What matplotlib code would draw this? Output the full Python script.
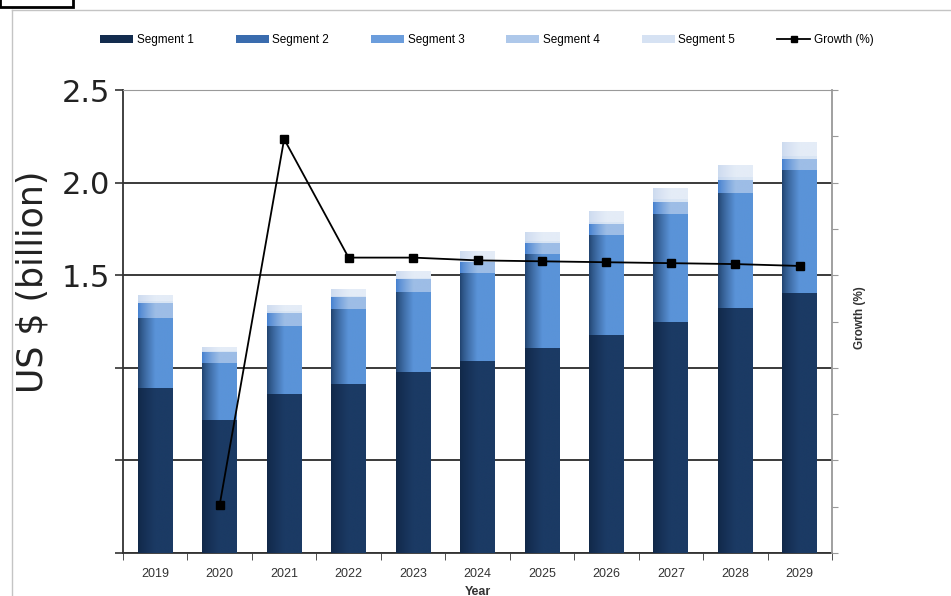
import numpy as np
import matplotlib
matplotlib.use('Agg')
import matplotlib.pyplot as plt
from matplotlib.colors import to_rgb
from matplotlib.lines import Line2D
from matplotlib.patches import Rectangle, Patch

years = ['2019', '2020', '2021', '2022', '2023', '2024', '2025', '2026', '2027', '2028', '2029']
seg1 = [0.891, 0.718, 0.859, 0.911, 0.976, 1.038, 1.105, 1.177, 1.249, 1.321, 1.402]
seg2 = [0.378, 0.308, 0.369, 0.405, 0.435, 0.472, 0.509, 0.540, 0.582, 0.624, 0.666]
seg3 = [0.081, 0.059, 0.069, 0.065, 0.067, 0.063, 0.061, 0.059, 0.065, 0.069, 0.058]
seg4 = [0.008, 0.006, 0.008, 0.009, 0.009, 0.010, 0.011, 0.013, 0.013, 0.014, 0.015]
seg5 = [0.030, 0.021, 0.031, 0.036, 0.037, 0.044, 0.045, 0.057, 0.057, 0.063, 0.071]
growth_years = years[1:]
growth = [-19.8, 19.7, 6.9, 6.9, 6.6, 6.5, 6.4, 6.3, 6.2, 6.0]

segments = [seg1, seg2, seg3, seg4, seg5]
names = ['Segment 1', 'Segment 2', 'Segment 3', 'Segment 4', 'Segment 5']
# left edge colour -> right edge colour of each bar piece
grads = [('#112848', '#1b3a64'),
         ('#21436f', '#5a93d8'),
         ('#4580cf', '#9dbde6'),
         ('#c2d4ee', '#d9e5f4'),
         ('#ccdaef', '#e4ecf7')]
legend_colors = ['#132c4e', '#3a6cae', '#6b9ddc', '#aec8ea', '#d6e2f3']

small = ['Liberation Sans', 'DejaVu Sans']

fig = plt.figure(figsize=(9.51, 5.96), dpi=100)
fig.patch.set_facecolor('white')

# thin grey frame and the little box in the corner
fig.add_artist(Line2D([12/951, 1], [1-10/596, 1-10/596], color='#c4c4c4', lw=1))
fig.add_artist(Line2D([12/951, 12/951], [0, 1-10/596], color='#c4c4c4', lw=1))
fig.add_artist(Rectangle((0.0, 1-7/596), 73/951, 10/596, facecolor='white',
                         edgecolor='black', lw=2, clip_on=False))

ax = fig.add_axes([123/951, 43/596, 709/951, 463/596])
ax2 = ax.twinx()
ax.set_zorder(ax2.get_zorder() - 1)
ax2.patch.set_visible(False)

x = np.arange(len(years))
width = 0.54
bottom = np.zeros(len(years))
for vals, (c0, c1) in zip(segments, grads):
    bars = ax.bar(x, vals, width, bottom=bottom, color='none', edgecolor='none', zorder=3)
    r0, r1 = np.array(to_rgb(c0)), np.array(to_rgb(c1))
    t = np.clip(np.linspace(0, 1, 64) / 0.5, 0, 1) ** 0.8
    img = (r0[None, :] + (r1 - r0)[None, :] * t[:, None])[None, :, :]
    for p in bars:
        ax.imshow(img, extent=(p.get_x(), p.get_x() + p.get_width(),
                               p.get_y(), p.get_y() + p.get_height()),
                  aspect='auto', interpolation='bilinear', zorder=3)
    bottom += np.array(vals)

ax.set_xlim(-0.5, len(years) - 0.5)
ax.set_ylim(0, 2.5)
ax.set_yticks([0, 0.5, 1.0, 1.5, 2.0, 2.5])
ax.set_yticklabels(['', '', '', '1.5', '2.0', '2.5'], fontsize=22, color='#222222')
ax.grid(axis='y', color='#3a3a3a', lw=1.4, zorder=1)
ax.set_axisbelow(True)
ax.set_xticks(x)
ax.set_xticklabels(years, fontsize=9, color='#333333', family=small)
ax.set_xticks(np.arange(-0.5, len(years)), minor=True)
ax.tick_params(axis='x', which='major', length=0, pad=11)
ax.tick_params(axis='x', which='minor', length=5, color='#333333', direction='out')
ax.tick_params(axis='y', length=6, color='#333333', width=1.2, pad=3)
ax.set_xlabel('Year', fontsize=9, fontweight='bold', color='#333333', family=small, labelpad=4)
ax.set_ylabel('US $ (billion)', fontsize=25, color='#222222')
ax.yaxis.set_label_coords(-0.1035, 0.585)
for s in ['left', 'bottom']:
    ax.spines[s].set_color('#333333')
    ax.spines[s].set_linewidth(1.3)
ax.spines['top'].set_color('#9a9a9a')
ax.spines['right'].set_visible(False)

ax2.plot(x[1:], growth, color='black', lw=1.3, marker='s', markersize=6, zorder=5)
ax2.set_ylim(-25, 25)
ax2.set_yticks(np.arange(-25, 26, 5))
ax2.set_yticklabels([])
ax2.tick_params(axis='y', length=4, color='#999999')
ax2.spines['right'].set_color('#999999')
ax2.spines['right'].set_linewidth(1.3)
for s in ['left', 'top', 'bottom']:
    ax2.spines[s].set_visible(False)
ax2.set_ylabel('Growth (%)', fontsize=8.5, fontweight='bold', color='#333333', family=small)
ax2.yaxis.set_label_coords(1.031, 0.508)

handles = [Patch(facecolor=c, edgecolor='none') for c in legend_colors]
handles.append(Line2D([], [], color='black', lw=1.3, marker='s', markersize=5))
fig.legend(handles, names + ['Growth (%)'], loc='center', bbox_to_anchor=(0.512, 1 - 40/596),
           ncol=6, frameon=False, prop={'family': small, 'size': 8.5},
           handlelength=2.8, handleheight=0.6, handletextpad=0.3, columnspacing=3.55)

fig.savefig('out.png', dpi=100)
